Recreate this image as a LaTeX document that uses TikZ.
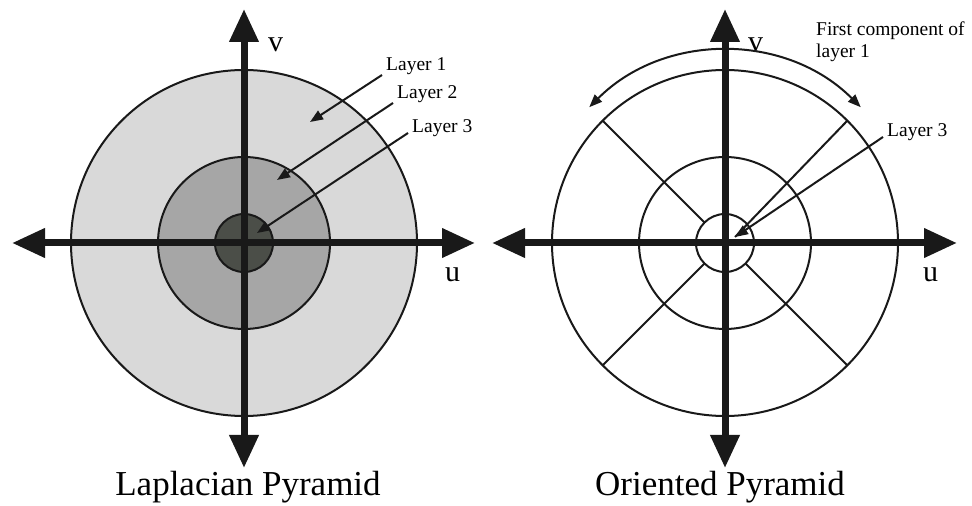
\documentclass[tikz,border=0pt]{standalone}
\usepackage{fontspec}
\setmainfont{Liberation Serif}
\usetikzlibrary{arrows.meta,calc}
\definecolor{ringone}{HTML}{D9D9D9}
\definecolor{ringtwo}{HTML}{A6A6A6}
\definecolor{ringthree}{HTML}{4B4E48}
\begin{document}
\begin{tikzpicture}[x=1pt,y=1pt,
  axis/.style={line width=7pt,draw=black!90,-{Triangle[length=33pt,width=28pt]}},
  ring/.style={line width=2pt,draw=black!90},
  pointer/.style={line width=2pt,draw=black!90,-{Triangle[length=13pt,width=10pt]}},
  thin/.style={line width=2pt,draw=black!90},
  lbl/.style={inner sep=0pt,font=\fontsize{19.5}{22}\selectfont},
  axlbl/.style={inner sep=0pt,font=\fontsize{30}{32}\selectfont},
  ttl/.style={inner sep=0pt,font=\fontsize{35}{38}\selectfont}]
\useasboundingbox (0,0) rectangle (972,506);
% ---------- left: Laplacian pyramid ----------
\coordinate (L) at (244,263);
\fill[ringone] (L) circle (173);
\fill[ringtwo] (L) circle (86);
\fill[ringthree] (L) circle (29);
\draw[ring] (L) circle (173);
\draw[ring] (L) circle (86);
\draw[ring] (L) circle (29);
\coordinate (Lw) at (12,263);
\coordinate (Le) at (475,263);
\coordinate (Ls) at (244,38);
\coordinate (Ln) at (244,497);
\draw[axis] (L) -- (Lw);
\draw[axis] (L) -- (Le);
\draw[axis] (L) -- (Ls);
\draw[axis] (L) -- (Ln);
\node[axlbl,anchor=base west] (Lv) at (268,454) {v};
\node[axlbl,anchor=base west] (Lu) at (445,224) {u};
\node[lbl,anchor=base west] (l1) at (386,435) {Layer 1};
\node[lbl,anchor=base west] (l2) at (397,407) {Layer 2};
\node[lbl,anchor=base west] (l3) at (412,373) {Layer 3};
\coordinate (l1s) at (382,431);
\coordinate (l1e) at (310,384);
\coordinate (l2s) at (393,403);
\coordinate (l2e) at (277,326);
\coordinate (l3s) at (408,373);
\coordinate (l3e) at (257,273);
\draw[pointer] (l1s) -- (l1e);
\draw[pointer] (l2s) -- (l2e);
\draw[pointer] (l3s) -- (l3e);
\node[ttl,anchor=base] (Lt) at (248,10) {Laplacian Pyramid};
% ---------- right: Oriented pyramid ----------
\coordinate (R) at (725,263);
\draw[ring] (R) circle (173);
\draw[ring] (R) circle (86);
\draw[ring] (R) circle (29);
\coordinate (tip) at (735,269);
\draw[thin] (R) ++(135:29) -- ++(135:144);
\draw[thin] (R) ++(225:29) -- ++(225:144);
\draw[thin] (R) ++(315:29) -- ++(315:144);
\coordinate (d45) at ($(R)+(45:173)$);
\draw[thin] (d45) -- (tip);
\coordinate (Rw) at (492,263);
\coordinate (Re) at (957,263);
\coordinate (Rs) at (725,38);
\coordinate (Rn) at (725,497);
\draw[axis] (R) -- (Rw);
\draw[axis] (R) -- (Re);
\draw[axis] (R) -- (Rs);
\draw[axis] (R) -- (Rn);
\node[axlbl,anchor=base west] (Rv) at (748,454) {v};
\node[axlbl,anchor=base west] (Ru) at (923,224) {u};
\draw[thin,{Triangle[length=13pt,width=10pt]}-{Triangle[length=13pt,width=10pt]}]
  (R) ++(45:192) arc[start angle=45,end angle=135,radius=192];
\node[lbl,anchor=north west,align=left] (fc) at (816,484.5) {First component of\\layer 1};
\node[lbl,anchor=base west] (r3) at (887,369) {Layer 3};
\coordinate (r3s) at (883,369);
\draw[pointer] (r3s) -- (tip);
\node[ttl,anchor=base] (Rt) at (720,10) {Oriented Pyramid};
\end{tikzpicture}
\end{document}
